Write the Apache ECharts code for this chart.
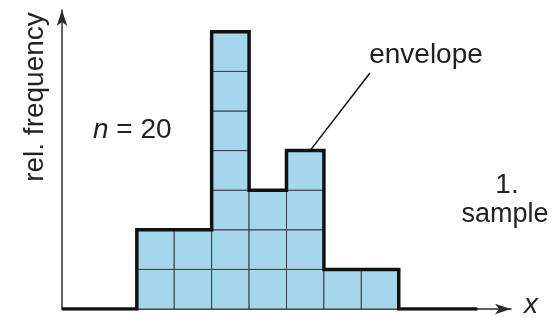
<!DOCTYPE html>
<html>
<head>
<meta charset="utf-8">
<script src="https://cdn.jsdelivr.net/npm/echarts@6/dist/echarts.min.js"></script>
<style>
  html, body { margin: 0; padding: 0; background: #fff; }
  #main { width: 555px; height: 318px; }
</style>
</head>
<body>
<div id="main"></div>
<script>
// histogram of the 1st sample, one cell = one observation
var binStart = [2, 3, 4, 5, 6, 7, 8];
var counts = [2, 2, 7, 3, 4, 1, 1];
var sampleSize = 20;
var baseEnd = 11.1;         // where the envelope baseline stops
var leader = [[6.63, 4.0], [8.23, 5.96]];

var myChart = echarts.init(document.getElementById('main'));

// one rect per observation
var cells = [];
binStart.forEach(function (x, i) {
  for (var r = 0; r < counts[i]; r++) cells.push([x, r]);
});

// outline of the histogram
var envelope = [[0, 0]];
var prev = 0;
binStart.forEach(function (x, i) {
  envelope.push([x, prev]);
  envelope.push([x, counts[i]]);
  prev = counts[i];
});
var lastX = binStart[binStart.length - 1] + 1;
envelope.push([lastX, prev]);
envelope.push([lastX, 0]);
envelope.push([baseEnd, 0]);

var font = '"Liberation Sans", Arial, sans-serif';
var axisLine = {
  show: true,
  symbol: ['none', 'arrow'],
  symbolSize: [8, 16],
  lineStyle: { color: '#2b2b2b', width: 1.5 }
};

myChart.setOption({
  animation: false,
  grid: { left: 62, right: 44, top: 10, bottom: 9 },
  xAxis: {
    type: 'value', min: 0, max: 12,
    axisLine: axisLine, axisTick: { show: false },
    axisLabel: { show: false }, splitLine: { show: false }
  },
  yAxis: {
    type: 'value', min: 0, max: 7.55,
    axisLine: axisLine, axisTick: { show: false },
    axisLabel: { show: false }, splitLine: { show: false }
  },
  series: [
    {
      type: 'custom',
      data: cells,
      z: 2,
      renderItem: function (params, api) {
        var p0 = api.coord([api.value(0), api.value(1) + 1]);
        var p1 = api.coord([api.value(0) + 1, api.value(1)]);
        return {
          type: 'rect',
          shape: { x: p0[0], y: p0[1], width: p1[0] - p0[0], height: p1[1] - p0[1] },
          style: { fill: '#a5d6ee', stroke: '#3c3c3c', lineWidth: 1 }
        };
      }
    },
    {
      type: 'line',
      data: envelope,
      symbol: 'none',
      z: 4,
      lineStyle: { color: '#111', width: 3.5, join: 'miter' }
    },
    {
      type: 'line',
      data: leader,
      symbol: 'none',
      z: 3,
      lineStyle: { color: '#111', width: 1.5 }
    }
  ],
  graphic: [
    {
      type: 'text', x: 35, y: 97, rotation: Math.PI / 2,
      style: { text: 'rel. frequency', font: '28px ' + font, fill: '#222', align: 'center', verticalAlign: 'middle' }
    },
    {
      type: 'text', x: 93, y: 130,
      style: {
        text: '{i|n} = ' + sampleSize, fill: '#222', verticalAlign: 'middle',
        rich: {
          i: { fontStyle: 'italic', fontSize: 28, fontFamily: font, fill: '#222' }
        },
        font: '28px ' + font
      }
    },
    {
      type: 'text', x: 426, y: 55,
      style: { text: 'envelope', font: '28px ' + font, fill: '#222', align: 'center', verticalAlign: 'middle' }
    },
    {
      type: 'text', x: 507, y: 185,
      style: { text: '1.', font: '28px ' + font, fill: '#222', align: 'center', verticalAlign: 'middle' }
    },
    {
      type: 'text', x: 505, y: 215,
      style: { text: 'sample', font: '27px ' + font, fill: '#222', align: 'center', verticalAlign: 'middle' }
    },
    {
      type: 'text', x: 531, y: 305,
      style: { text: 'x', font: 'italic 28px ' + font, fill: '#222', align: 'center', verticalAlign: 'middle' }
    }
  ]
});
</script>
</body>
</html>
